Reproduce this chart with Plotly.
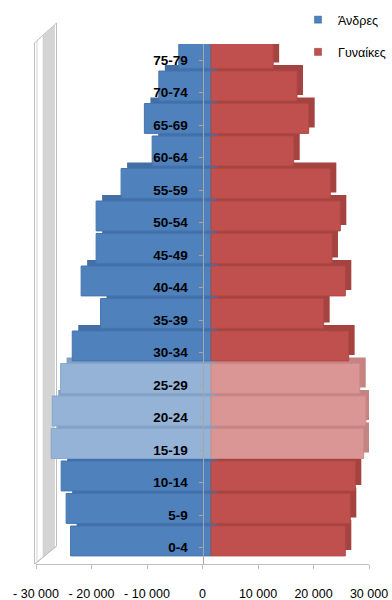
import plotly.graph_objects as go

# ---------------- data ----------------
age_groups = ["0-4", "5-9", "10-14", "15-19", "20-24", "25-29", "30-34", "35-39",
              "40-44", "45-49", "50-54", "55-59", "60-64", "65-69", "70-74", "75-79"]
men = [25300, 26100, 27000, 28800, 28600, 27100, 25000, 19900,
       23400, 20700, 20700, 16200, 10600, 12000, 9400, 5800]
women = [24200, 25100, 26000, 27500, 27900, 26800, 24800, 20300,
         24200, 21800, 23300, 21500, 14900, 17600, 15500, 11200]
highlighted = ["15-19", "20-24", "25-29"]
series_names = ["Άνδρες", "Γυναίκες"]
x_tick_values = [-30000, -20000, -10000, 0, 10000, 20000, 30000]
x_tick_labels = ["- 30 000", "- 20 000", "- 10 000", "0", "10 000", "20 000", "30 000"]

# ---------------- styling ----------------
W, H = 392, 600
L, R, T, B = 36, 369, 44, 564           # plot area in pixels
XMIN, XMAX = -30000, 30000
units_per_px = (XMAX - XMIN) / (R - L)
n = len(age_groups)
px_per_cat = (B - T) / n

front_dx, front_dy = 8.5, 6.8            # 3-D bars sit slightly right/up of the axis
depth_dx, depth_dy = 6.0, 6.0            # extrusion depth of the 3-D bars

FONT = "Liberation Sans, Arial, sans-serif"

blue, blue_light = "#4F81BD", "#95B3D7"
red, red_light = "#C0504D", "#DA9694"
blue_side, blue_light_side = "#436FA6", "#829FC6"
red_side, red_light_side = "#A54340", "#C48482"

def colors(base, light):
    return [light if g in highlighted else base for g in age_groups]

def xr(dx):
    s = dx * units_per_px
    return [XMIN - s, XMAX - s]

def yr(dy):
    s = dy / px_per_cat
    return [-0.5 - s, n - 0.5 - s]

fig = go.Figure()

# legend entries
fig.add_trace(go.Scatter(x=[None], y=[None], mode="markers", name=series_names[0],
                         legendgroup="m",
                         marker=dict(symbol="square", size=7, color=blue,
                                     line=dict(color="#2F5A8C", width=0.5))))
fig.add_trace(go.Scatter(x=[None], y=[None], mode="markers", name=series_names[1],
                         legendgroup="f",
                         marker=dict(symbol="square", size=7, color=red,
                                     line=dict(color="#8C2F2D", width=0.5))))

# 3-D depth (drawn behind the front faces)
fig.add_trace(go.Bar(orientation="h", y=age_groups, x=[-v for v in men], width=0.92,
                     marker=dict(color=colors(blue_side, blue_light_side), line=dict(width=0)),
                     xaxis="x2", yaxis="y2", showlegend=False, hoverinfo="skip"))
fig.add_trace(go.Bar(orientation="h", y=age_groups, x=women, width=0.92,
                     marker=dict(color=colors(red_side, red_light_side), line=dict(width=0)),
                     xaxis="x2", yaxis="y2", showlegend=False, hoverinfo="skip"))

# front faces
fig.add_trace(go.Bar(orientation="h", y=age_groups, x=[-v for v in men], width=0.92,
                     name=series_names[0],
                     marker=dict(color=colors(blue, blue_light),
                                 line=dict(color=colors("#4575AE", "#88A6CC"), width=1)),
                     xaxis="x3", yaxis="y3", showlegend=False))
fig.add_trace(go.Bar(orientation="h", y=age_groups, x=women, width=0.92,
                     name=series_names[1],
                     marker=dict(color=colors(red, red_light),
                                 line=dict(color=colors("#B04946", "#CF8A88"), width=1)),
                     xaxis="x3", yaxis="y3", showlegend=False))

# decorative 3-D side wall (paper coordinates derived from pixel positions)
def P(px, py):
    return (px - L) / (R - L), (B - py) / (B - T)

def path(pts):
    s = ""
    for i, (px, py) in enumerate(pts):
        x, y = P(px, py)
        s += ("M" if i == 0 else "L") + f"{x:.5f},{y:.5f} "
    return s + "Z"

shapes = [
    dict(type="path", xref="paper", yref="paper", layer="below",
         path=path([(34.5, 564), (34.5, 43), (56.5, 23), (56.5, 546)]),
         line=dict(color="#BFBFBF", width=1), fillcolor="white"),
    dict(type="path", xref="paper", yref="paper", layer="below",
         path=path([(43, 556), (43, 35), (54.5, 25), (54.5, 548)]),
         line=dict(color="#C8C8C8", width=0.5), fillcolor="#D4D4D4"),
    dict(type="line", xref="paper", yref="paper", layer="below",
         x0=P(37, 0)[0], x1=P(37, 0)[0], y0=P(0, 561)[1], y1=P(0, 41)[1],
         line=dict(color="#C8C8C8", width=0.8)),
    dict(type="line", xref="paper", yref="paper", layer="below",
         x0=P(35, 0)[0], x1=P(56.5, 0)[0], y0=P(0, 564)[1], y1=P(0, 546)[1],
         line=dict(color="#BFBFBF", width=1)),
]

fig.update_layout(
    width=W, height=H,
    margin=dict(l=L, r=W - R, t=T, b=H - B, pad=0, autoexpand=False),
    paper_bgcolor="white", plot_bgcolor="white",
    barmode="overlay", bargap=0.08,
    showlegend=True,
    legend=dict(x=(298 - L) / (R - L), xanchor="left", y=1 + (T - 5) / (B - T), yanchor="top",
                bgcolor="rgba(0,0,0,0)", font=dict(family=FONT, size=12.5, color="#000000"),
                itemwidth=30, tracegroupgap=13),
    shapes=shapes,
    xaxis=dict(range=[XMIN, XMAX], tickmode="array", tickvals=x_tick_values,
               ticktext=x_tick_labels, tickangle=0, automargin=False,
               ticklabeloverflow="allow",
               showline=True, linecolor="#BFBFBF", linewidth=1,
               ticks="outside", ticklen=4, tickcolor="#BFBFBF", showgrid=False,
               zeroline=False, tickfont=dict(family=FONT, size=12.5, color="#000000"),
               ticklabelstandoff=14, fixedrange=True, anchor="y", layer="above traces"),
    yaxis=dict(range=[-0.5, n - 0.5], tickmode="array", tickvals=list(range(n)),
               ticktext=[f"<b>{g}</b>" for g in age_groups], anchor="free", position=0.5,
               automargin=False, tickangle=0, ticklabeloverflow="allow",
               showline=True, linecolor="#A6A6A6", linewidth=1, ticks="outside",
               ticklen=4, tickcolor="#A6A6A6", showgrid=False, zeroline=False,
               tickfont=dict(family=FONT, size=13.5, color="#000000"),
               ticklabelstandoff=8, layer="above traces"),
    xaxis2=dict(overlaying="x", range=xr(front_dx + depth_dx), visible=False, anchor="y2",
                automargin=False),
    yaxis2=dict(overlaying="y", range=yr(front_dy + depth_dy), visible=False, anchor="x2",
                type="category", categoryorder="array", categoryarray=age_groups,
                automargin=False),
    xaxis3=dict(overlaying="x", range=xr(front_dx), visible=False, anchor="y3",
                automargin=False),
    yaxis3=dict(overlaying="y", range=yr(front_dy), visible=False, anchor="x3",
                type="category", categoryorder="array", categoryarray=age_groups,
                automargin=False),
)

fig.write_html("out.html")
